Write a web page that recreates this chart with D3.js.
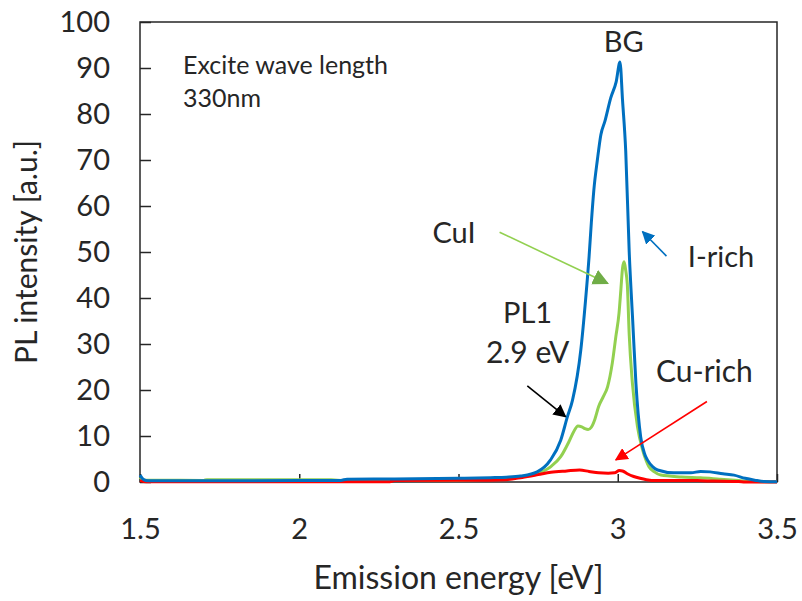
<!DOCTYPE html>
<html>
<head>
<meta charset="utf-8">
<script src="https://cdn.jsdelivr.net/npm/d3@7"></script>
<style>
  html, body { margin: 0; padding: 0; background: #fff; }
  svg { display: block; font-family: Lato, "Open Sans", sans-serif; }
</style>
</head>
<body>
<svg id="chart" width="802" height="601"></svg>
<script>
// PL spectra (excitation 330 nm): emission energy [eV] vs PL intensity [a.u.]
const iRichEnergy = [1.500, 1.510, 1.525, 1.70, 2.00, 2.13, 2.15, 2.30, 2.50, 2.60, 2.65, 2.695, 2.747, 2.789, 2.821, 2.842, 2.858, 2.884, 2.899, 2.910, 2.917, 2.925, 2.936, 2.947, 2.960, 2.978, 2.995, 3.007, 3.015, 3.025, 3.036, 3.047, 3.057, 3.072, 3.085, 3.093, 3.110, 3.125, 3.176, 3.230, 3.260, 3.290, 3.330, 3.365, 3.400, 3.430, 3.460, 3.500];
const iRichValue  = [1.5, 0.6, 0.25, 0.25, 0.3, 0.35, 0.6, 0.65, 0.8, 0.95, 1.05, 1.3, 2.2, 4.8, 9.1, 14.2, 17.8, 28.7, 39.6, 49.0, 56.3, 63.5, 70.0, 75.5, 78.5, 83.5, 87.0, 91.3, 83.0, 72.0, 50.0, 35.0, 21.5, 9.8, 6.0, 4.8, 3.3, 2.6, 2.0, 2.0, 2.3, 2.2, 1.8, 1.5, 0.8, 0.4, 0.1, 0.05];

const cuiEnergy = [1.500, 1.510, 1.700, 1.710, 2.100, 2.140, 2.500, 2.600, 2.680, 2.736, 2.789, 2.821, 2.847, 2.862, 2.875, 2.887, 2.897, 2.907, 2.917, 2.928, 2.940, 2.955, 2.968, 2.983, 2.994, 3.004, 3.010, 3.015, 3.020, 3.025, 3.030, 3.036, 3.046, 3.062, 3.078, 3.090, 3.098, 3.115, 3.135, 3.200, 3.260, 3.320, 3.380, 3.420, 3.500];
const cuiValue  = [1.0, 0.4, 0.35, 0.5, 0.5, 0.3, 0.4, 0.6, 1.0, 1.6, 3.3, 5.5, 8.8, 11.0, 12.2, 12.0, 11.6, 11.4, 11.9, 13.6, 16.4, 18.6, 20.7, 25.9, 31.6, 36.7, 42.0, 46.5, 47.9, 46.0, 43.0, 32.0, 21.5, 12.0, 7.0, 4.5, 3.3, 2.2, 1.5, 1.1, 0.9, 0.6, 0.3, 0.1, 0.05];

const cuRichEnergy = [1.500, 1.520, 2.280, 2.300, 2.500, 2.600, 2.650, 2.700, 2.750, 2.790, 2.840, 2.880, 2.910, 2.940, 2.970, 2.990, 3.005, 3.015, 3.030, 3.050, 3.070, 3.090, 3.120, 3.250, 3.300, 3.380, 3.400, 3.500];
const cuRichValue  = [0.3, 0.05, 0.05, 0.3, 0.4, 0.4, 0.5, 1.0, 1.6, 2.1, 2.4, 2.6, 2.3, 2.0, 1.9, 2.0, 2.5, 2.4, 1.8, 1.2, 0.8, 0.5, 0.3, 0.3, 0.2, 0.1, 0.0, 0.0];

const xTicks = [1.5, 2, 2.5, 3, 3.5];
const xTickLabels = ["1.5", "2", "2.5", "3", "3.5"];
const yTicks = [0, 10, 20, 30, 40, 50, 60, 70, 80, 90, 100];
const yTickLabels = ["0", "10", "20", "30", "40", "50", "60", "70", "80", "90", "100"];

const seriesNames  = ["Cu-rich", "CuI", "I-rich"];
const seriesColors = ["#ff0000", "#92d050", "#0070c0"];

// Callout texts and arrows, placed in data units
const noteTexts = ["Excite wave length", "330nm", "BG", "CuI", "I-rich", "PL1", "2.9 eV", "Cu-rich"];
const noteEnergy = [1.635, 1.635, 3.019, 2.418, 3.220, 2.717, 2.717, 3.120];
const noteValue  = [88.8, 81.6, 93.5, 52.0, 46.7, 34.6, 25.9, 21.8];
const noteAnchor = ["start", "start", "middle", "start", "start", "middle", "middle", "start"];
const noteSize   = [25, 25, 29, 29, 29, 29, 30, 30];

const arrowFromE = [3.153, 2.629, 2.716, 3.280];
const arrowFromV = [49.1, 54.3, 20.9, 17.5];
const arrowToE   = [3.078, 2.968, 2.836, 2.994];
const arrowToV   = [54.4, 43.2, 14.2, 4.8];
const arrowLine  = ["#0070c0", "#92d050", "#000000", "#ff0000"];
const arrowHead  = ["#0070c0", "#70ad47", "#000000", "#ff0000"];

const svg = d3.select("#chart");
const margin = { left: 140, right: 25, top: 22, bottom: 119 };
const W = 802, H = 601;
const innerW = W - margin.left - margin.right;
const innerH = H - margin.top - margin.bottom;

const x = d3.scaleLinear().domain([1.5, 3.5]).range([margin.left, margin.left + innerW]);
const y = d3.scaleLinear().domain([0, 100]).range([margin.top + innerH, margin.top]);

// Axes with inward ticks
const xAxis = d3.axisBottom(x)
  .tickValues(xTicks)
  .tickFormat((d, i) => xTickLabels[i])
  .tickSize(-8)
  .tickPadding(36);
const yAxis = d3.axisLeft(y)
  .tickValues(yTicks)
  .tickFormat((d, i) => yTickLabels[i])
  .tickSize(-11)
  .tickPadding(30);

const gx = svg.append("g").attr("transform", `translate(0,${y(0)})`).call(xAxis);
const gy = svg.append("g").attr("transform", `translate(${x(1.5)},0)`).call(yAxis);
[gx, gy].forEach(g => {
  g.select(".domain").remove();
  g.selectAll(".tick line").attr("stroke", "#262626").attr("stroke-width", 1.5);
  g.selectAll(".tick text").attr("fill", "#262626").style("font-size", "29px").style("font-family", "Lato, sans-serif");
});

// Plot frame
svg.append("rect")
  .attr("x", x(1.5)).attr("y", y(100))
  .attr("width", x(3.5) - x(1.5)).attr("height", y(0) - y(100))
  .attr("fill", "none").attr("stroke", "#262626").attr("stroke-width", 1.5);

// Spectra
const line = d3.line()
  .x(d => x(d[0]))
  .y(d => y(d[1]))
  .curve(d3.curveMonotoneX);

const seriesData = [
  d3.zip(cuRichEnergy, cuRichValue),
  d3.zip(cuiEnergy, cuiValue),
  d3.zip(iRichEnergy, iRichValue)
];
// draw CuI, Cu-rich, then I-rich on top
[1, 0, 2].forEach(i => {
  svg.append("path")
    .datum(seriesData[i])
    .attr("class", "series " + seriesNames[i])
    .attr("fill", "none")
    .attr("stroke", seriesColors[i])
    .attr("stroke-width", 3)
    .attr("stroke-linejoin", "round")
    .attr("d", line);
});

// Arrow heads
const defs = svg.append("defs");
arrowHead.forEach((c, i) => {
  defs.append("marker")
    .attr("id", "head" + i)
    .attr("viewBox", "0 0 10 10")
    .attr("refX", 9).attr("refY", 5)
    .attr("markerUnits", "userSpaceOnUse")
    .attr("markerWidth", i === 1 ? 16 : 13)
    .attr("markerHeight", i === 1 ? 16 : 13)
    .attr("orient", "auto")
    .append("path")
    .attr("d", "M0,0 L10,5 L0,10 Z")
    .attr("fill", c);
});
arrowFromE.forEach((e, i) => {
  svg.append("line")
    .attr("x1", x(e)).attr("y1", y(arrowFromV[i]))
    .attr("x2", x(arrowToE[i])).attr("y2", y(arrowToV[i]))
    .attr("stroke", arrowLine[i])
    .attr("stroke-width", 1.6)
    .attr("marker-end", `url(#head${i})`);
});

// Callout labels
noteTexts.forEach((t, i) => {
  svg.append("text")
    .attr("x", x(noteEnergy[i]))
    .attr("y", y(noteValue[i]))
    .attr("text-anchor", noteAnchor[i])
    .attr("fill", "#262626")
    .style("font-size", noteSize[i] + "px")
    .text(t);
});

// Axis titles
svg.append("text")
  .attr("x", (x(1.5) + x(3.5)) / 2)
  .attr("y", 589)
  .attr("text-anchor", "middle")
  .attr("fill", "#262626")
  .style("font-size", "32px")
  .text("Emission energy [eV]");
svg.append("text")
  .attr("transform", `translate(37,${(y(0) + y(100)) / 2}) rotate(-90)`)
  .attr("text-anchor", "middle")
  .attr("fill", "#262626")
  .style("font-size", "30px")
  .text("PL intensity [a.u.]");
</script>
</body>
</html>
